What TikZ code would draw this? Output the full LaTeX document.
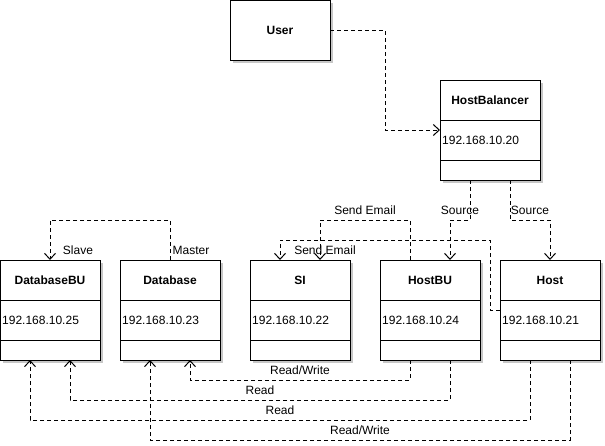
\documentclass[tikz,border=0pt]{standalone}
\usepackage{fontspec}
\setmainfont{Liberation Sans}
\usetikzlibrary{arrows.meta}
\tikzset{
  box/.style={draw=black, line width=1pt, fill=white, inner sep=0pt, outer sep=0pt, anchor=north west, minimum width=100pt, minimum height=#1},
  shadowbox/.style={fill=black!22, draw=none},
  conn/.style={line width=1pt, dash pattern=on 4pt off 3pt, -{Straight Barb[length=6pt,width=11pt,line width=1pt]}},
  lbl/.style={font=\fontsize{12pt}{14pt}\selectfont, inner sep=0pt},
  ttl/.style={font=\fontsize{12pt}{14pt}\selectfont\bfseries, inner sep=0pt},
}
\newcommand{\classbox}[5]{%
  \begin{scope}[shift={(#2,#3)}]
    \fill[shadowbox] (3,3) rectangle (103,103);
    \node[box=100pt] (#1) at (0,0) {};
    \draw[line width=1pt] (0,40) -- (100,40) (0,80) -- (100,80);
    \node[ttl] (#1t) at (50,20) {#4};
    \node[lbl, anchor=west] (#1ip) at (2,60) {#5};
  \end{scope}}
\begin{document}
\begin{tikzpicture}[x=1pt,y=-1pt]
\useasboundingbox (0,0) rectangle (605,445);
% User
\fill[shadowbox] (233,3) rectangle (333,63);
\node[box=60pt] (user) at (230,0) {};
\node[ttl] (usert) at (280,30) {User};
\classbox{hb}{440}{80}{HostBalancer}{192.168.10.20}
\classbox{dbbu}{0}{260}{DatabaseBU}{192.168.10.25}
\classbox{db}{120}{260}{Database}{192.168.10.23}
\classbox{si}{250}{260}{SI}{192.168.10.22}
\classbox{hbu}{380}{260}{HostBU}{192.168.10.24}
\classbox{host}{500}{260}{Host}{192.168.10.21}
% connectors
\draw[conn] (user.east) -- ++(55,0) |- (hb.west);
\draw[conn] ([xshift=-20pt]hb.south) -- ++(0,40) -| ([xshift=20pt]hbu.north);
\draw[conn] ([xshift=20pt]hb.south) -- ++(0,40) -| (host.north);
\draw[conn] ([xshift=-20pt]hbu.north) -- ++(0,-40) -| ([xshift=20pt]si.north);
\draw[conn] (host.west) -- ++(-10,0) -- ++(0,-70) -| ([xshift=-20pt]si.north);
\draw[conn] (db.north) -- ++(0,-40) -| (dbbu.north);
\draw[conn] ([xshift=-20pt]hbu.south) -- ++(0,20) -| ([xshift=20pt]db.south);
\draw[conn] ([xshift=20pt]hbu.south) -- ++(0,40) -| ([xshift=20pt]dbbu.south);
\draw[conn] ([xshift=-20pt]host.south) -- ++(0,60) -| ([xshift=-20pt]dbbu.south);
\draw[conn] ([xshift=20pt]host.south) -- ++(0,80) -| ([xshift=-20pt]db.south);
% labels
\node[lbl] (l1) at (365,210) {Send Email};
\node[lbl] (l2) at (460,210) {Source};
\node[lbl] (l3) at (530,210) {Source};
\node[lbl] (l4) at (325,250) {Send Email};
\node[lbl] (l5) at (78,250) {Slave};
\node[lbl] (l6) at (191,250) {Master};
\node[lbl] (l7) at (300,370) {Read/Write};
\node[lbl] (l8) at (260,390) {Read};
\node[lbl] (l9) at (280,410) {Read};
\node[lbl] (l10) at (360,430) {Read/Write};
\end{tikzpicture}
\end{document}
